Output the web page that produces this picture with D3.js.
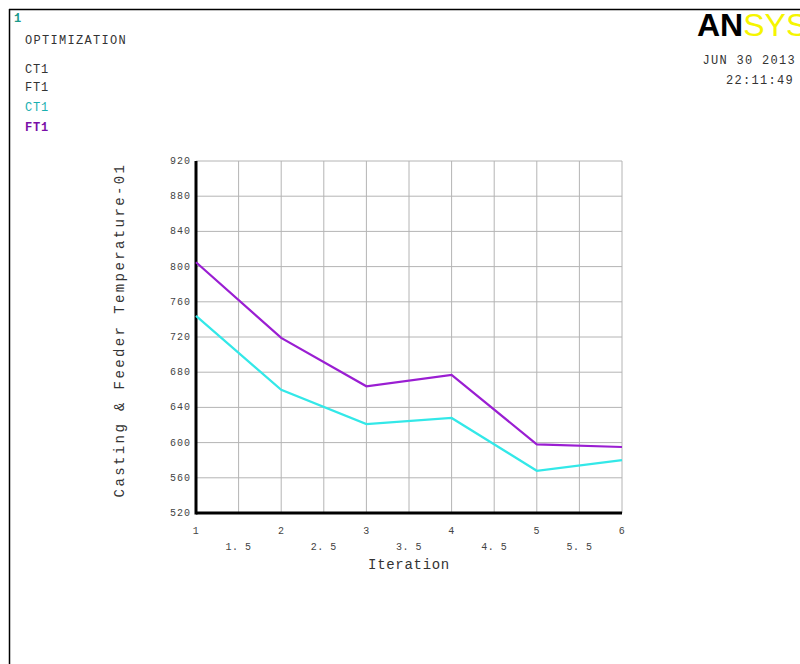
<!DOCTYPE html>
<html>
<head>
<meta charset="utf-8">
<script src="https://cdn.jsdelivr.net/npm/d3@7"></script>
<style>
  body { margin:0; background:#fff; }
  text { font-family: "Liberation Mono", "DejaVu Sans Mono", monospace; }
</style>
</head>
<body>
<div id="chart"></div>
<script>
const width = 800, height = 664;

const iterations = [1, 2, 3, 4, 5, 6];
const ct1 = [744, 660, 621, 628, 568, 580];
const ft1 = [805, 719, 664, 677, 598, 595];
const yTicks = [520, 560, 600, 640, 680, 720, 760, 800, 840, 880, 920];
const xTicks = [1, 1.5, 2, 2.5, 3, 3.5, 4, 4.5, 5, 5.5, 6];
const legendLines = ["CT1", "FT1"];

const svg = d3.select("#chart").append("svg")
  .attr("width", width).attr("height", height);

// frame
svg.append("line").attr("x1", 9).attr("y1", 9.5).attr("x2", width).attr("y2", 9.5)
  .attr("stroke", "#000").attr("stroke-width", 1.5);
svg.append("line").attr("x1", 9.5).attr("y1", 9).attr("x2", 9.5).attr("y2", height)
  .attr("stroke", "#000").attr("stroke-width", 1.5);

// header texts
svg.append("text").attr("x", 14).attr("y", 22).text("1")
  .attr("fill", "#1a9a8a").attr("font-weight", "bold").attr("font-size", 12);
svg.append("text").attr("x", 25).attr("y", 44).text("OPTIMIZATION")
  .attr("fill", "#333").attr("font-size", 12).attr("letter-spacing", 1.3);
legendLines.forEach((t, i) => {
  svg.append("text").attr("x", 25).attr("y", 73 + i * 18).text(t)
    .attr("fill", "#333").attr("font-size", 12).attr("letter-spacing", 0.8);
});
svg.append("text").attr("x", 25).attr("y", 111).text("CT1")
  .attr("fill", "#1ab0b0").attr("font-size", 12).attr("letter-spacing", 0.8);
svg.append("text").attr("x", 25).attr("y", 131).text("FT1")
  .attr("fill", "#7a0fa8").attr("font-size", 12).attr("font-weight", "bold").attr("letter-spacing", 0.8);

// logo (cut off at the right edge, as in the reference)
const logo = svg.append("text").attr("x", 697).attr("y", 36)
  .attr("font-size", 32);
logo.append("tspan").text("AN").attr("font-weight", "bold").attr("fill", "#000")
  .attr("font-family", "Liberation Sans, Arial, sans-serif");
logo.append("tspan").text("SYS").attr("fill", "#f5f500")
  .attr("font-family", "Liberation Sans, Arial, sans-serif");
svg.append("text").attr("x", 796).attr("y", 64).attr("text-anchor", "end")
  .text("JUN 30 2013").attr("fill", "#333").attr("font-size", 12).attr("letter-spacing", 1.3);
svg.append("text").attr("x", 794).attr("y", 84).attr("text-anchor", "end")
  .text("22:11:49").attr("fill", "#333").attr("font-size", 12).attr("letter-spacing", 1.3);

// plot
const x = d3.scaleLinear().domain([1, 6]).range([196, 622]);
const y = d3.scaleLinear().domain([520, 920]).range([513, 161]);

const grid = svg.append("g").attr("stroke", "#b4b4b4").attr("stroke-width", 1);
grid.selectAll(".v").data(xTicks).join("line")
  .attr("x1", d => x(d)).attr("x2", d => x(d))
  .attr("y1", y(920)).attr("y2", y(520));
grid.selectAll(".h").data(yTicks).join("line")
  .attr("x1", x(1)).attr("x2", x(6))
  .attr("y1", d => y(d)).attr("y2", d => y(d));

svg.append("g").selectAll("text").data(yTicks).join("text")
  .attr("x", 191).attr("y", d => y(d) + 3).attr("text-anchor", "end")
  .attr("font-size", 10).attr("fill", "#444").attr("letter-spacing", 1).text(d => d);

svg.append("g").selectAll("text").data(xTicks).join("text")
  .attr("x", d => x(d)).attr("y", (d, i) => i % 2 === 0 ? 534 : 550)
  .attr("text-anchor", "middle").attr("font-size", 10).attr("fill", "#444").attr("letter-spacing", 0.5)
  .text(d => Number.isInteger(d) ? d : d.toFixed(1).replace(".", ". "));

// axes
svg.append("line").attr("x1", x(1)).attr("x2", x(1)).attr("y1", y(920)).attr("y2", y(520) + 1.5)
  .attr("stroke", "#000").attr("stroke-width", 3);
svg.append("line").attr("x1", x(1)).attr("x2", x(6)).attr("y1", y(520)).attr("y2", y(520))
  .attr("stroke", "#000").attr("stroke-width", 3);

const line = d3.line().x((d, i) => x(iterations[i])).y(d => y(d));
svg.append("path").datum(ct1).attr("d", line).attr("fill", "none")
  .attr("stroke", "#33e8e8").attr("stroke-width", 2.2);
svg.append("path").datum(ft1).attr("d", line).attr("fill", "none")
  .attr("stroke", "#9a1ed2").attr("stroke-width", 2.2);

// axis titles
svg.append("text").attr("x", 409).attr("y", 569).attr("text-anchor", "middle")
  .attr("font-size", 14).attr("fill", "#333").attr("letter-spacing", 0.7).text("Iteration");
svg.append("text").attr("transform", "translate(124,330) rotate(-90)")
  .attr("text-anchor", "middle").attr("font-size", 14).attr("fill", "#333")
  .attr("letter-spacing", 2.4).text("Casting & Feeder Temperature-01");
</script>
</body>
</html>
